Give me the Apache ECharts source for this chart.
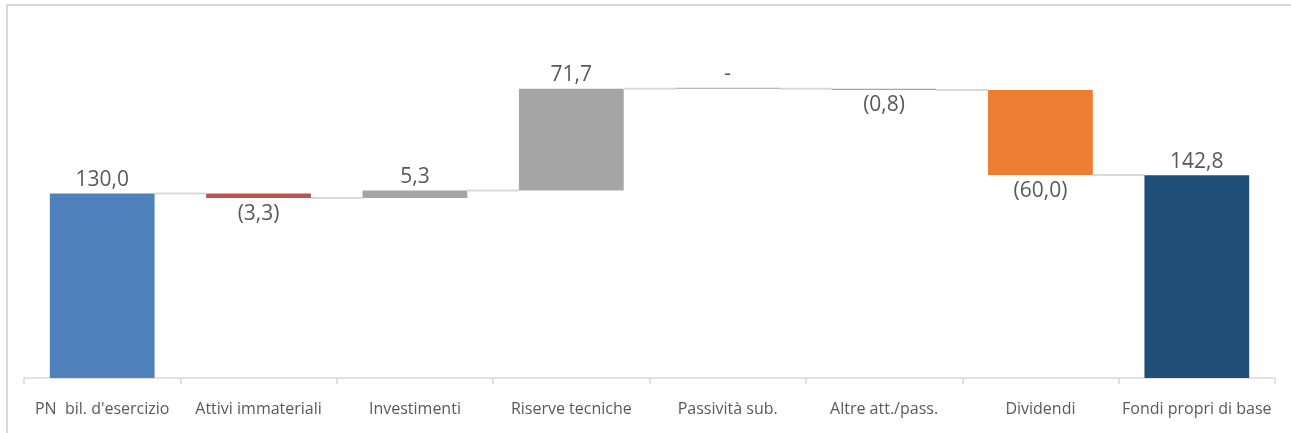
<!DOCTYPE html>
<html>
<head>
<meta charset="utf-8">
<script src="https://cdn.jsdelivr.net/npm/echarts@6/dist/echarts.min.js"></script>
<style>
html,body{margin:0;padding:0;background:#fff;}
#chart{width:1291px;height:433px;}
</style>
</head>
<body>
<div id="chart"></div>
<script>
// ---- data ----
const categories = ["PN  bil. d'esercizio", "Attivi immateriali", "Investimenti", "Riserve tecniche", "Passività sub.", "Altre att./pass.", "Dividendi", "Fondi propri di base"];
const values = [130.0, -3.3, 5.3, 71.7, 0.0, -0.8, -60.0, 142.8];
const kinds = ["total", "delta", "delta", "delta", "delta", "delta", "delta", "total"];
const colors = ["#4f81bd", "#c0504d", "#a5a5a5", "#a5a5a5", "#a5a5a5", "#a5a5a5", "#ed7d31", "#1f4e79"];

// ---- derived ----
const baseData = [], deltaData = [], levels = [];
let cum = 0;
values.forEach((v, i) => {
  let base, h;
  if (kinds[i] === "total") { base = 0; h = v; cum = v; }
  else {
    if (v >= 0) { base = cum; h = v; } else { base = cum + v; h = -v; }
    cum = cum + v;
  }
  levels.push(cum);
  baseData.push(base);
  deltaData.push({
    value: h,
    itemStyle: { color: colors[i] },
    label: { position: v < 0 ? 'bottom' : 'top', distance: v < 0 ? 5 : 3 }
  });
});
function fmt(v) {
  if (v === 0) return '-';
  const s = Math.abs(v).toFixed(1).replace('.', ',');
  return v < 0 ? '(' + s + ')' : s;
}
const connData = [];
for (let i = 0; i < values.length - 1; i++) connData.push([i, levels[i]]);

const GAP = 0.33;
const chart = echarts.init(document.getElementById('chart'));
chart.setOption({
  animation: false,
  textStyle: { fontFamily: 'Open Sans' },
  graphic: [{
    type: 'polyline', z: -10, silent: true,
    shape: { points: [[7, 440], [7, 5], [1300, 5]] },
    style: { fill: null, stroke: '#d9d9d9', lineWidth: 2 }
  }],
  grid: { left: 24, right: 16, top: 23, bottom: 55, containLabel: false },
  xAxis: {
    type: 'category', data: categories,
    axisLine: { lineStyle: { color: '#d9d9d9', width: 1.5 } },
    axisTick: { show: true, length: 6, lineStyle: { color: '#d9d9d9', width: 1.5 } },
    axisLabel: { color: '#595959', fontSize: 16, margin: 23, interval: 0, fontFamily: 'Open Sans' }
  },
  yAxis: { type: 'value', min: 0, max: 250, show: false, splitLine: { show: false } },
  series: [
    {
      type: 'bar', stack: 'w', data: baseData, barCategoryGap: (GAP * 100) + '%',
      itemStyle: { color: 'transparent' }, silent: true
    },
    {
      type: 'bar', stack: 'w', data: deltaData, barMinHeight: 1,
      label: {
        show: true, color: '#595959', fontSize: 21, fontFamily: 'Open Sans',
        formatter: p => fmt(values[p.dataIndex])
      }
    },
    {
      type: 'custom', data: connData, z: 1, silent: true,
      renderItem: (params, api) => {
        const i = api.value(0), lv = api.value(1);
        const bw = api.size([1, 0])[0] * (1 - GAP);
        const p1 = api.coord([i, lv]), p2 = api.coord([i + 1, lv]);
        return {
          type: 'line',
          shape: { x1: p1[0] + bw / 2, y1: p1[1], x2: p2[0] - bw / 2, y2: p2[1] },
          style: { stroke: '#d9d9d9', lineWidth: 2 }
        };
      }
    }
  ]
});
</script>
</body>
</html>
